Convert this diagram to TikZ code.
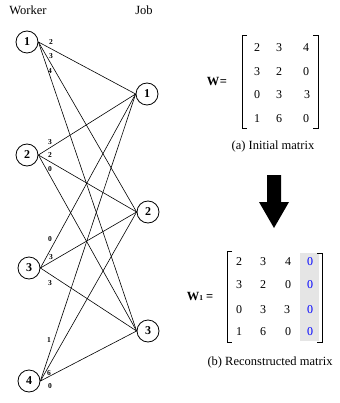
\documentclass[tikz,border=0pt]{standalone}
\usepackage{fontspec}
\setmainfont{Liberation Serif}
\begin{document}
\begin{tikzpicture}[x=1pt,y=-1pt,
  vert/.style={circle,draw,line width=0.8pt,minimum size=22pt,inner sep=0pt,font=\fontsize{12}{14}\selectfont\bfseries},
  edge/.style={line width=0.6pt},
  wlab/.style={font=\fontsize{7.5}{8}\selectfont\bfseries,inner sep=0pt},
  ent/.style={font=\fontsize{12}{14}\selectfont,inner sep=0pt},
  bent/.style={ent,text=blue},
  brk/.style={line width=0.8pt},
  captxt/.style={font=\fontsize{12.5}{14}\selectfont,inner sep=0pt},
  mlab/.style={font=\fontsize{12.5}{14}\selectfont\bfseries,inner sep=0pt}]
\useasboundingbox (0,0) rectangle (339,403);
% headers
\node[captxt] (hw) at (28,10) {Worker};
\node[captxt] (hj) at (144,10) {Job};
% workers
\node[vert] (w1) at (27,42) {1};
\node[vert] (w2) at (27,155) {2};
\node[vert] (w3) at (29,268) {3};
\node[vert] (w4) at (29,381) {4};
% jobs
\node[vert] (j1) at (147,94) {1};
\node[vert] (j2) at (148,212) {2};
\node[vert] (j3) at (148,331) {3};
% edges
\foreach \w in {w1,w2,w3,w4}{
  \foreach \j in {j1,j2,j3}{
    \draw[edge] (\w.east) -- (\j.west);
  }
}
% edge labels
\node[wlab] (l11) at (51,42) {2};
\node[wlab] (l12) at (51,56) {3};
\node[wlab] (l13) at (50,71) {4};
\node[wlab] (l21) at (50,142) {3};
\node[wlab] (l22) at (50,155) {2};
\node[wlab] (l23) at (50,169) {0};
\node[wlab] (l31) at (50,239) {0};
\node[wlab] (l32) at (51,257) {3};
\node[wlab] (l33) at (50,283) {3};
\node[wlab] (l41) at (49,340) {1};
\node[wlab] (l42) at (49,373) {6};
\node[wlab] (l43) at (50,386) {0};
% matrix W
\node[mlab] (W) at (217,82) {W\kern0.5pt=};
\draw[brk] (247,35) -- (242,35) -- (242,128) -- (247,128);
\draw[brk] (313,35) -- (318,35) -- (318,128) -- (313,128);
\node[ent] at (257,48) {2};
\node[ent] at (279,48) {3};
\node[ent] at (306,48) {4};
\node[ent] at (257,72) {3};
\node[ent] at (279,72) {2};
\node[ent] at (306,72) {0};
\node[ent] at (257,95) {0};
\node[ent] at (279,95) {3};
\node[ent] at (307,95) {3};
\node[ent] at (257,119) {1};
\node[ent] at (279,119) {6};
\node[ent] at (306,119) {0};
\node[captxt] (ca) at (273,146) {(a) Initial matrix};
% arrow
\fill (267,175) -- (281,175) -- (281,202) -- (289,202) -- (274,228) -- (259,202) -- (267,202) -- cycle;
% matrix W1
\fill[gray!20] (300,253) rectangle (319,341);
\node[mlab] (W1) at (200,296) {W{\fontsize{7.5}{8}\selectfont 1}\kern3pt=};
\draw[brk] (232,251) -- (227,251) -- (227,342) -- (232,342);
\draw[brk] (317,253) -- (322,253) -- (322,342) -- (317,342);
\node[ent] at (239,262) {2};
\node[ent] at (263,262) {3};
\node[ent] at (288,262) {4};
\node[bent] at (310,262) {0};
\node[ent] at (239,285) {3};
\node[ent] at (263,285) {2};
\node[ent] at (288,285) {0};
\node[bent] at (310,285) {0};
\node[ent] at (239,310) {0};
\node[ent] at (263,310) {3};
\node[ent] at (287,310) {3};
\node[bent] at (310,310) {0};
\node[ent] at (239,332) {1};
\node[ent] at (263,332) {6};
\node[ent] at (288,332) {0};
\node[bent] at (310,332) {0};
\node[captxt] (cb) at (270,362) {(b) Reconstructed matrix};
\end{tikzpicture}
\end{document}
